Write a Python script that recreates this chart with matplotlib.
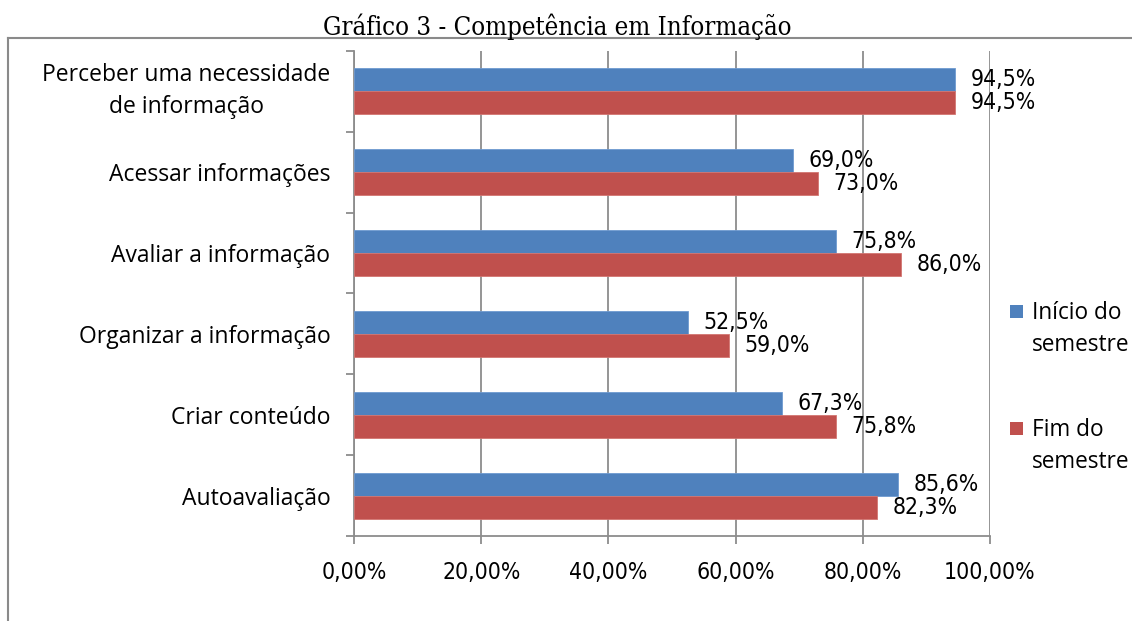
import matplotlib
matplotlib.use("Agg")
import matplotlib.pyplot as plt
from matplotlib.patches import Rectangle
from matplotlib.lines import Line2D
import numpy as np

categories = ["Perceber uma necessidade\nde informação", "Acessar informações",
              "Avaliar a informação", "Organizar a informação", "Criar conteúdo",
              "Autoavaliação"]
inicio = [94.5, 69.0, 75.8, 52.5, 67.3, 85.6]
fim = [94.5, 73.0, 86.0, 59.0, 75.8, 82.3]
series_names = ["Início do\nsemestre", "Fim do\nsemestre"]
xticks = [0, 20, 40, 60, 80, 100]
xtick_labels = ["0,00%", "20,00%", "40,00%", "60,00%", "80,00%", "100,00%"]
title = "Gráfico 3 - Competência em Informação"

narrow = dict(family="DejaVu Sans", fontstretch="condensed")
main = "Open Sans"

BLUE = "#4F81BD"
RED = "#C0504D"
GRID = "#8C8C8C"

W, H = 1132, 621
fig = plt.figure(figsize=(W / 100, H / 100), dpi=100)
ax = fig.add_axes([354 / W, 1 - 536 / H, (990 - 354) / W, (536 - 51) / H])

n = len(categories)
y = np.arange(n)
bh = 0.285
off = 0.1425
ax.barh(y - off, inicio, height=bh, color=BLUE, edgecolor="#6F9AD0", linewidth=0.6, zorder=3)
ax.barh(y + off, fim, height=bh, color=RED, edgecolor="#D27571", linewidth=0.6, zorder=3)

for yi, v in zip(y, inicio):
    ax.annotate(f"{v:.1f}%".replace(".", ","), (v, yi - off), xytext=(11, 0),
                textcoords="offset points", va="center", ha="left",
                fontsize=16.5, zorder=4, **narrow)
for yi, v in zip(y, fim):
    ax.annotate(f"{v:.1f}%".replace(".", ","), (v, yi + off), xytext=(11, 0),
                textcoords="offset points", va="center", ha="left",
                fontsize=16.5, zorder=4, **narrow)

ax.set_xlim(0, 100)
ax.set_ylim(n - 0.5, -0.5)
ax.set_xticks(xticks)
ax.set_xticklabels(xtick_labels, fontsize=16.5, **narrow)
ax.tick_params(axis="x", length=6, width=1.3, color=GRID, pad=12)
ax.xaxis.grid(True, color=GRID, linewidth=1.3, zorder=0)

ax.set_yticks(y)
ax.set_yticklabels(categories, family=main, fontsize=16.5)
for lab in ax.get_yticklabels():
    lab.set_multialignment("center")
    lab.set_linespacing(1.45)
    if "\n" in lab.get_text():
        lab.set_verticalalignment("center")
ax.tick_params(axis="y", which="major", length=0, pad=17)
ax.set_yticks(np.arange(-0.5, n + 0.5, 1), minor=True)
ax.tick_params(axis="y", which="minor", length=6, width=1.3, color=GRID)

for s in ["top", "right"]:
    ax.spines[s].set_visible(False)
for s in ["left", "bottom"]:
    ax.spines[s].set_color(GRID)
    ax.spines[s].set_linewidth(1.3)

# outer frame
fig.add_artist(Line2D([8 / W, 1], [1 - 38 / H, 1 - 38 / H], color="#8A8A8A", linewidth=1.5))
fig.add_artist(Line2D([8 / W, 8 / W], [0, 1 - 38 / H], color="#8A8A8A", linewidth=1.5))

fig.text(557 / W, 1 - 27 / H, title, ha="center", va="center", fontsize=18.5,
         family="DejaVu Serif", fontstretch="condensed", fontweight="normal")

# legend
for (ytop, col, name) in [(311, BLUE, series_names[0]), (428, RED, series_names[1])]:
    fig.add_artist(Rectangle((1010 / W, 1 - (ytop + 7) / H), 13 / W, 13 / H,
                             transform=fig.transFigure, facecolor=col, edgecolor="none"))
    fig.text(1032 / W, 1 - (ytop - 10) / H, name, ha="left", va="top", fontsize=16.3,
             family=main, linespacing=1.42)

fig.savefig("out.png", dpi=100)
